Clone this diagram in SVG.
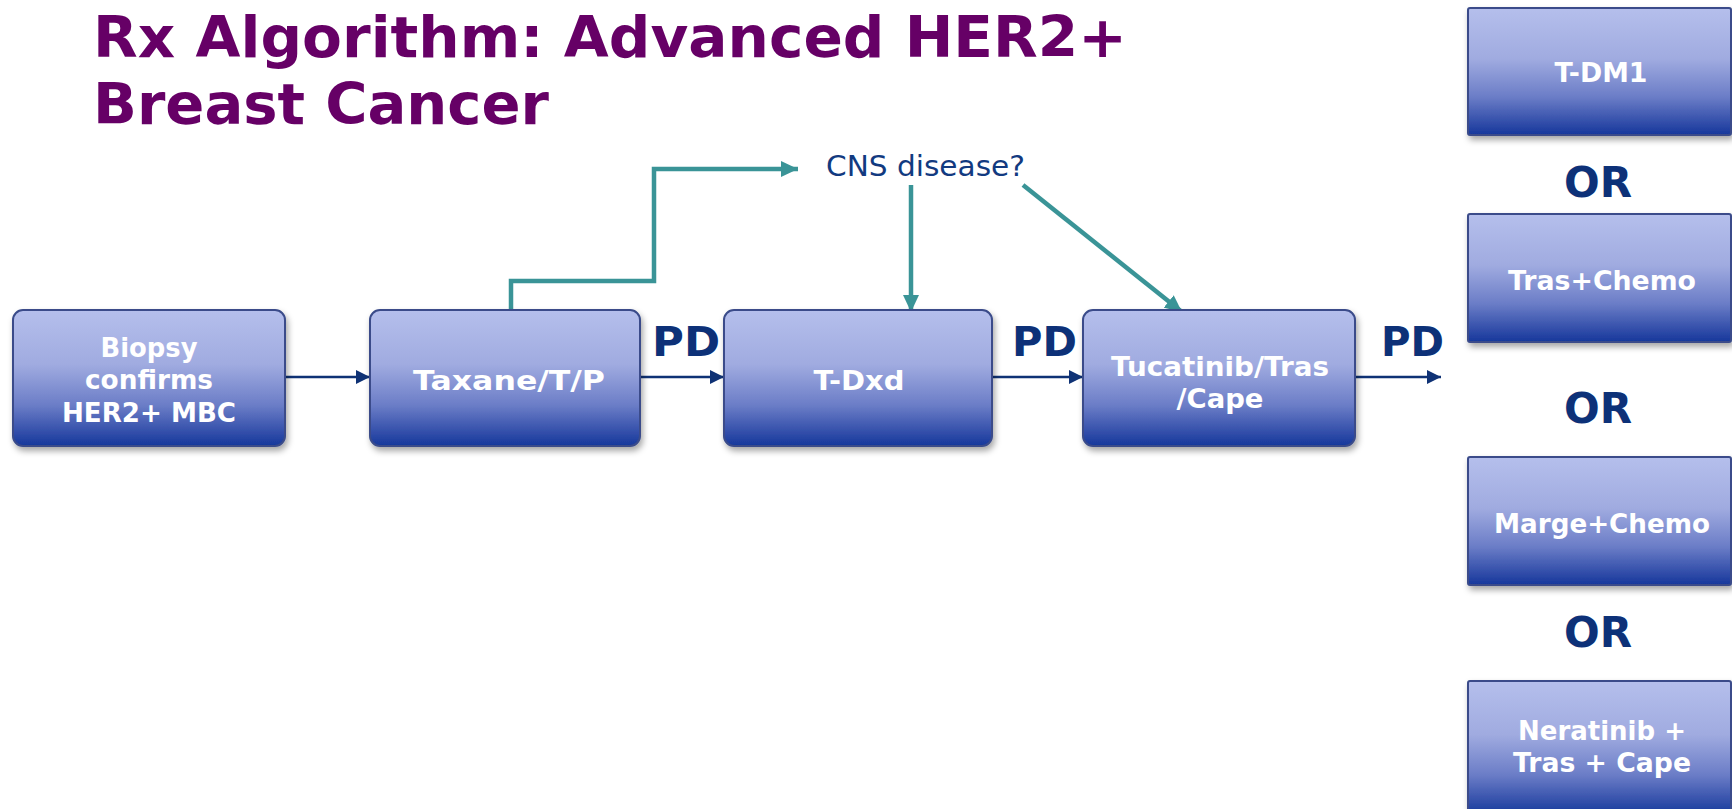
<svg xmlns="http://www.w3.org/2000/svg" width="1732" height="809" viewBox="0 0 1732 809">
  <defs>
    <linearGradient id="boxGrad" x1="0" y1="0" x2="0" y2="1">
      <stop offset="0" stop-color="#b5bfec"/>
      <stop offset="0.4" stop-color="#a0abe0"/>
      <stop offset="0.7" stop-color="#6b7dc7"/>
      <stop offset="1" stop-color="#16379b"/>
    </linearGradient>
    <filter id="shadow" x="-10%" y="-10%" width="125%" height="130%">
      <feDropShadow dx="2" dy="4" stdDeviation="3" flood-color="#000" flood-opacity="0.35"/>
    </filter>
    <marker id="navyArrow" markerWidth="14" markerHeight="14" refX="14" refY="7" orient="auto" markerUnits="userSpaceOnUse">
      <path d="M0,0 L14,7 L0,14 Z" fill="#0f3275"/>
    </marker>
    <marker id="tealArrow" markerWidth="17" markerHeight="16" refX="17" refY="8" orient="auto" markerUnits="userSpaceOnUse">
      <path d="M0,0 L17,8 L0,16 Z" fill="#3a9497"/>
    </marker>
  </defs>
  <style>
    .title { font-family: "DejaVu Sans", "Liberation Sans", sans-serif; font-weight: bold; font-size: 57px; fill: #660066; }
    .box { fill: url(#boxGrad); stroke: #3a4c8a; stroke-width: 2; filter: url(#shadow); }
    .btxt { font-family: "DejaVu Sans", "Liberation Sans", sans-serif; font-weight: bold; font-size: 26px; fill: #ffffff; text-anchor: middle; }
    .pd { font-family: "DejaVu Sans", "Liberation Sans", sans-serif; font-weight: bold; font-size: 40px; fill: #0d3178; }
    .or { font-family: "DejaVu Sans", "Liberation Sans", sans-serif; font-weight: bold; font-size: 42px; fill: #0d3178; text-anchor: middle; }
    .cns { font-family: "DejaVu Sans", "Liberation Sans", sans-serif; font-size: 29px; fill: #123a80; }
    .navy { fill: none; stroke: #0f3275; stroke-width: 2.5; marker-end: url(#navyArrow); }
    .teal { fill: none; stroke: #3a9497; stroke-width: 4.5; stroke-linejoin: miter; marker-end: url(#tealArrow); }
  </style>
  <rect width="1732" height="809" fill="#ffffff"/>

  <g id="title">
    <text class="title" x="93" y="57" textLength="1034" lengthAdjust="spacingAndGlyphs">Rx Algorithm: Advanced HER2+</text>
    <text class="title" x="93" y="124" textLength="456" lengthAdjust="spacingAndGlyphs">Breast Cancer</text>
  </g>

  <g id="connectors">
    <line class="navy" x1="285" y1="377" x2="370" y2="377"/>
    <line class="navy" x1="640" y1="377" x2="724" y2="377"/>
    <line class="navy" x1="992" y1="377" x2="1083" y2="377"/>
    <line class="navy" x1="1355" y1="377" x2="1441" y2="377"/>
    <polyline class="teal" points="511,311 511,281 654,281 654,169 798,169"/>
    <line class="teal" x1="911" y1="185" x2="911" y2="312"/>
    <line class="teal" x1="1023" y1="185" x2="1182" y2="312"/>
  </g>

  <g id="pd-labels">
    <text class="pd" x="652" y="356" textLength="68" lengthAdjust="spacingAndGlyphs">PD</text>
    <text class="pd" x="1012" y="356" textLength="65" lengthAdjust="spacingAndGlyphs">PD</text>
    <text class="pd" x="1381" y="356" textLength="63" lengthAdjust="spacingAndGlyphs">PD</text>
  </g>

  <g id="cns">
    <text class="cns" x="826" y="176" textLength="199" lengthAdjust="spacingAndGlyphs">CNS disease?</text>
  </g>

  <g id="biopsy">
    <rect class="box" x="13" y="310" width="272" height="136" rx="10"/>
    <text class="btxt" x="149" y="357" textLength="97" lengthAdjust="spacingAndGlyphs">Biopsy</text>
    <text class="btxt" x="149" y="389" textLength="128" lengthAdjust="spacingAndGlyphs">confirms</text>
    <text class="btxt" x="149" y="422" textLength="174" lengthAdjust="spacingAndGlyphs">HER2+ MBC</text>
  </g>

  <g id="taxane">
    <rect class="box" x="370" y="310" width="270" height="136" rx="10"/>
    <text class="btxt" x="509" y="390" textLength="192" lengthAdjust="spacingAndGlyphs">Taxane/T/P</text>
  </g>

  <g id="tdxd">
    <rect class="box" x="724" y="310" width="268" height="136" rx="10"/>
    <text class="btxt" x="859" y="390" textLength="91" lengthAdjust="spacingAndGlyphs">T-Dxd</text>
  </g>

  <g id="tucatinib">
    <rect class="box" x="1083" y="310" width="272" height="136" rx="10"/>
    <text class="btxt" x="1220" y="376" textLength="218" lengthAdjust="spacingAndGlyphs">Tucatinib/Tras</text>
    <text class="btxt" x="1220" y="408" textLength="87" lengthAdjust="spacingAndGlyphs">/Cape</text>
  </g>

  <g id="tdm1">
    <rect class="box" x="1468" y="8" width="263" height="127" rx="2"/>
    <text class="btxt" x="1601" y="82" textLength="93" lengthAdjust="spacingAndGlyphs">T-DM1</text>
  </g>

  <g id="or-labels">
    <text class="or" x="1598" y="197">OR</text>
    <text class="or" x="1598" y="423">OR</text>
    <text class="or" x="1598" y="647">OR</text>
  </g>

  <g id="tras-chemo">
    <rect class="box" x="1468" y="214" width="263" height="128" rx="2"/>
    <text class="btxt" x="1602" y="290" textLength="188" lengthAdjust="spacingAndGlyphs">Tras+Chemo</text>
  </g>

  <g id="marge-chemo">
    <rect class="box" x="1468" y="457" width="263" height="128" rx="2"/>
    <text class="btxt" x="1602" y="533" textLength="216" lengthAdjust="spacingAndGlyphs">Marge+Chemo</text>
  </g>

  <g id="neratinib">
    <rect class="box" x="1468" y="681" width="263" height="134" rx="2"/>
    <text class="btxt" x="1602" y="740" textLength="168" lengthAdjust="spacingAndGlyphs">Neratinib +</text>
    <text class="btxt" x="1602" y="772" textLength="178" lengthAdjust="spacingAndGlyphs">Tras + Cape</text>
  </g>
</svg>
